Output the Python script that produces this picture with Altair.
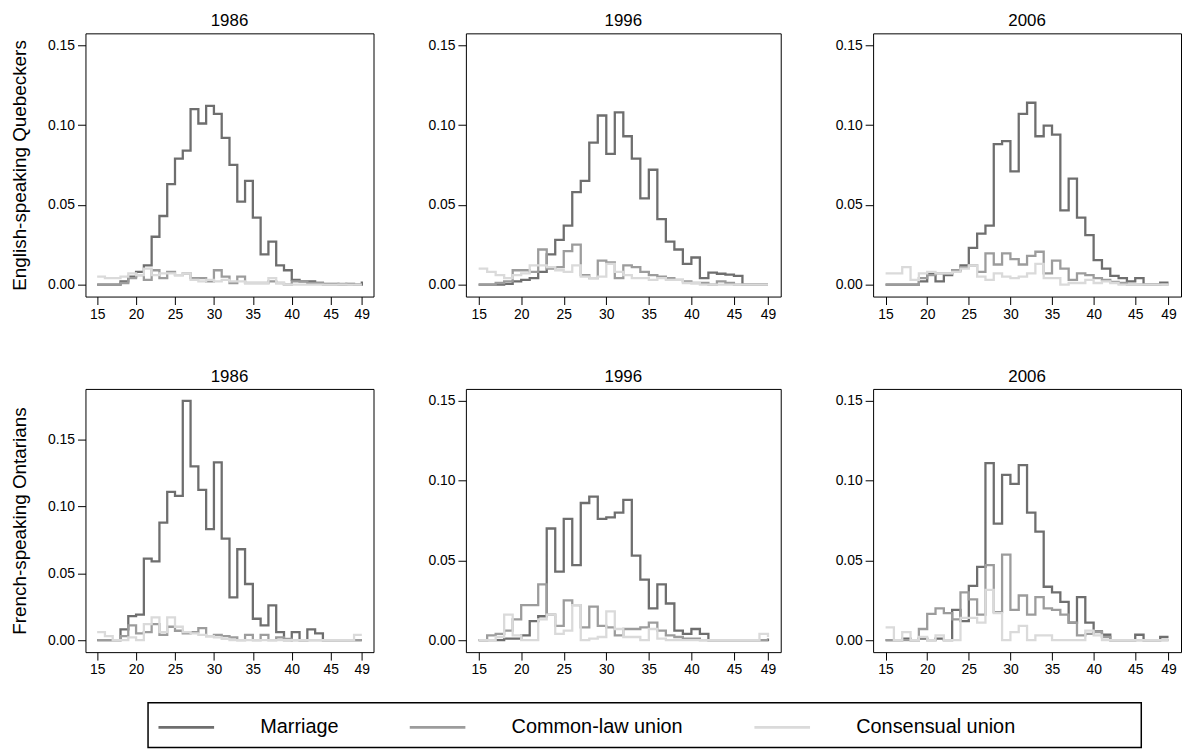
import altair as alt
import pandas as pd

FONT = "Liberation Sans"

ages = list(range(15, 50))
series_names = ["Marriage", "Common-law union", "Consensual union"]
series_colors = ["#6e6e6e", "#9c9c9c", "#dadada"]
x_ticks = [15, 20, 25, 30, 35, 40, 45, 49]
y_ticks = [0.0, 0.05, 0.10, 0.15]
years = ["1986", "1996", "2006"]
groups = ["English-speaking Quebeckers", "French-speaking Ontarians"]

# English-speaking Quebeckers
eq_1986_marriage = [0, 0, 0, 0.002, 0.005, 0.008, 0.012, 0.030, 0.043, 0.063,
                    0.079, 0.084, 0.110, 0.101, 0.112, 0.107, 0.092, 0.075, 0.052, 0.065,
                    0.042, 0.019, 0.027, 0.012, 0.009, 0.003, 0.002, 0.002, 0.001, 0.0005,
                    0.0005, 0, 0.0005, 0, 0.002]
eq_1986_common = [0, 0, 0, 0.001, 0.004, 0.006, 0.003, 0.009, 0.004, 0.008,
                  0.006, 0.007, 0.004, 0.004, 0.002, 0.009, 0.005, 0.001, 0.005, 0.001,
                  0.001, 0.001, 0.002, 0.001, 0.000, 0.002, 0.002, 0.001, 0.001, 0.000,
                  0.000, 0.0005, 0.000, 0.000, 0.000]
eq_1986_consensual = [0.005, 0.004, 0.004, 0.005, 0.007, 0.006, 0.010, 0.006, 0.007, 0.007,
                      0.006, 0.007, 0.003, 0.002, 0.003, 0.002, 0.003, 0.002, 0.002, 0.001,
                      0.001, 0.001, 0.004, 0.001, 0, 0, 0, 0, 0, 0,
                      0, 0, 0, 0, 0]

eq_1996_marriage = [0, 0, 0, 0.0005, 0.002, 0.003, 0.004, 0.008, 0.019, 0.028,
                    0.037, 0.058, 0.065, 0.089, 0.106, 0.082, 0.108, 0.093, 0.079, 0.054,
                    0.072, 0.041, 0.027, 0.022, 0.013, 0.017, 0.004, 0.0075, 0.0068, 0.0063,
                    0.0055, 0, 0, 0, 0]
eq_1996_common = [0, 0, 0.001, 0.002, 0.009, 0.009, 0.008, 0.022, 0.010, 0.011,
                  0.021, 0.025, 0.006, 0.004, 0.015, 0.014, 0.004, 0.012, 0.011, 0.008,
                  0.006, 0.005, 0.004, 0.003, 0.002, 0.001, 0.001, 0.000, 0.002, 0.001,
                  0, 0, 0, 0, 0]
eq_1996_consensual = [0.010, 0.008, 0.006, 0.004, 0.006, 0.007, 0.012, 0.012, 0.011, 0.009,
                      0.008, 0.012, 0.005, 0.004, 0.005, 0.013, 0.008, 0.006, 0.004, 0.004,
                      0.003, 0.004, 0.003, 0.003, 0.001, 0.001, 0, 0, 0, 0,
                      0, 0, 0, 0, 0]

eq_2006_marriage = [0, 0, 0, 0, 0.002, 0.007, 0.002, 0.006, 0.009, 0.012,
                    0.023, 0.032, 0.037, 0.088, 0.090, 0.071, 0.107, 0.114, 0.093, 0.0996,
                    0.094, 0.0465, 0.0665, 0.042, 0.031, 0.0154, 0.010, 0.0055, 0.004, 0.002,
                    0.004, 0, 0, 0.0013, 0.0013]
eq_2006_common = [0, 0, 0, 0, 0.004, 0.006, 0.007, 0.007, 0.009, 0.011,
                  0.012, 0.008, 0.0196, 0.0126, 0.0196, 0.016, 0.0126, 0.018, 0.0206, 0.007,
                  0.015, 0.010, 0.003, 0.007, 0.006, 0.004, 0.003, 0.0017, 0.001, 0,
                  0, 0, 0, 0, 0]
eq_2006_consensual = [0.007, 0.007, 0.011, 0.003, 0.007, 0.008, 0.007, 0.007, 0.008, 0.010,
                      0.012, 0.005, 0.003, 0.007, 0.005, 0.004, 0.005, 0.007, 0.013, 0.004,
                      0.004, 0, 0.001, 0.001, 0.003, 0.001, 0.002, 0.001, 0, 0,
                      0, 0, 0, 0, 0]

# French-speaking Ontarians
fo_1986_marriage = [0, 0, 0, 0.008, 0.018, 0.019, 0.061, 0.059, 0.088, 0.111,
                    0.108, 0.179, 0.130, 0.1125, 0.083, 0.133, 0.076, 0.032, 0.068, 0.042,
                    0.016, 0.011, 0.026, 0.006, 0, 0.006, 0, 0.008, 0.005, 0,
                    0, 0, 0, 0, 0]
fo_1986_common = [0, 0, 0, 0.003, 0.011, 0.005, 0.006, 0.012, 0.004, 0.010,
                  0.007, 0.005, 0.006, 0.009, 0.003, 0.004, 0.003, 0.002, 0, 0.004,
                  0, 0.004, 0, 0.002, 0.001, 0, 0, 0, 0, 0,
                  0, 0, 0, 0, 0]
fo_1986_consensual = [0.006, 0.003, 0, 0, 0.002, 0, 0.012, 0.017, 0.006, 0.017,
                      0.010, 0.006, 0.005, 0.004, 0.003, 0.002, 0.001, 0, 0, 0,
                      0, 0, 0, 0, 0, 0, 0, 0, 0, 0,
                      0, 0, 0, 0.004, 0.004]

fo_1996_marriage = [0, 0, 0, 0.001, 0.001, 0.003, 0.012, 0.015, 0.070, 0.043,
                    0.076, 0.047, 0.086, 0.090, 0.076, 0.077, 0.080, 0.088, 0.053, 0.038,
                    0.020, 0.035, 0.023, 0.006, 0.004, 0.007, 0.004, 0, 0, 0,
                    0, 0, 0, 0, 0.001]
fo_1996_common = [0, 0.003, 0.004, 0.006, 0.013, 0.022, 0.022, 0.035, 0.016, 0.009,
                  0.025, 0.022, 0.008, 0.021, 0.009, 0.008, 0.003, 0.007, 0.007, 0.008,
                  0.011, 0.006, 0.003, 0.002, 0.001, 0.001, 0, 0, 0, 0,
                  0, 0, 0, 0, 0]
fo_1996_consensual = [0, 0, 0.002, 0.016, 0.003, 0, 0, 0.013, 0.016, 0.004,
                      0.006, 0.022, 0, 0.001, 0.002, 0.018, 0.007, 0.002, 0.002, 0,
                      0.007, 0.001, 0, 0, 0, 0, 0, 0, 0, 0,
                      0, 0, 0, 0.004, 0.002]

fo_2006_marriage = [0, 0, 0.001, 0, 0.001, 0, 0.001, 0, 0.019, 0.012,
                    0.034, 0.046, 0.111, 0.073, 0.1036, 0.098, 0.1097, 0.080, 0.068, 0.0335,
                    0.030, 0.024, 0.011, 0.027, 0.011, 0.0055, 0.0034, 0, 0, 0,
                    0.0034, 0, 0, 0.002, 0.002]
fo_2006_common = [0, 0, 0, 0, 0.007, 0.0165, 0.020, 0.017, 0.013, 0.030,
                  0.0256, 0.016, 0.047, 0.0176, 0.0536, 0.019, 0.028, 0.016, 0.027, 0.020,
                  0.019, 0.016, 0.011, 0.003, 0.004, 0.005, 0.002, 0, 0, 0,
                  0, 0, 0, 0, 0]
fo_2006_consensual = [0.008, 0, 0.005, 0, 0.002, 0, 0.003, 0, 0, 0.014,
                      0.014, 0.011, 0.0316, 0.017, 0, 0.005, 0.009, 0, 0.003, 0.003,
                      0, 0, 0, 0, 0.006, 0.003, 0, 0, 0, 0,
                      0, 0, 0, 0, 0]

panels = [
    [(eq_1986_marriage, eq_1986_common, eq_1986_consensual),
     (eq_1996_marriage, eq_1996_common, eq_1996_consensual),
     (eq_2006_marriage, eq_2006_common, eq_2006_consensual)],
    [(fo_1986_marriage, fo_1986_common, fo_1986_consensual),
     (fo_1996_marriage, fo_1996_common, fo_1996_consensual),
     (fo_2006_marriage, fo_2006_common, fo_2006_consensual)],
]
panel_widths = [290, 317, 310]


def panel(series, year, ytitle, ydomain, width):
    rows = []
    for k, (name, vals) in enumerate(zip(series_names, series)):
        for a, v in zip(ages, vals):
            rows.append({"age": a, "rate": v, "union": name, "k": k})
    df = pd.DataFrame(rows)
    yaxis_kw = dict(values=y_ticks, format=".2f")
    if ytitle:
        yaxis_kw.update(title=ytitle, titleFontSize=19, titleFont=FONT,
                        titleFontWeight="normal", titleColor="black", titlePadding=18)
    else:
        yaxis_kw.update(title=None)
    return (
        alt.Chart(df, title=alt.Title(year, fontSize=17, font=FONT, fontWeight="normal",
                                      color="black", offset=3))
        .mark_line(interpolate="step-after", strokeWidth=2.3, clip=True)
        .encode(
            x=alt.X("age:Q",
                    scale=alt.Scale(domain=[13.5, 50.5], nice=False, zero=False),
                    axis=alt.Axis(values=x_ticks, title=None, format="d")),
            y=alt.Y("rate:Q",
                    scale=alt.Scale(domain=ydomain, nice=False, zero=False),
                    axis=alt.Axis(**yaxis_kw)),
            color=alt.Color("union:N",
                            scale=alt.Scale(domain=series_names, range=series_colors),
                            legend=alt.Legend(title=None)),
            order=alt.Order("k:Q"),
        )
        .properties(width=width, height=265)
    )


grid_rows = []
for r, group in enumerate(groups):
    charts = []
    for c, year in enumerate(years):
        ytitle = group if c == 0 else None
        if r == 1 and c == 0:
            ydom = [-0.009, 0.188]
        else:
            ydom = [-0.0075, 0.1575]
        charts.append(panel(panels[r][c], year, ytitle, ydom, panel_widths[c]))
    grid_rows.append(alt.hconcat(*charts, spacing=53))

grid = alt.vconcat(*grid_rows, spacing=45)

# frame that surrounds the legend (legend entries come from the colour scale)
legend_df = pd.DataFrame({"union": series_names})
spacer = (
    alt.Chart(legend_df)
    .mark_point(opacity=0)
    .encode(detail="union:N")
    .properties(width=61, height=45, view=alt.ViewBackground(stroke="transparent"))
)
legend_frame = (
    alt.Chart(legend_df)
    .mark_point(opacity=0)
    .encode(detail="union:N")
    .properties(width=1000, height=45,
                view=alt.ViewBackground(stroke="black", strokeWidth=1.5))
)
legend_row = alt.hconcat(spacer, legend_frame, spacing=0)

chart = (
    alt.vconcat(grid, legend_row, spacing=24)
    .properties(padding={"left": 2, "top": 1, "right": 0, "bottom": 0})
    .configure_view(stroke="black", strokeWidth=1)
    .configure_axis(
        grid=False, domain=False, tickSize=8, tickColor="black", tickWidth=1,
        labelFont=FONT, labelFontSize=14, labelColor="black", labelPadding=3,
    )
    .configure_legend(
        orient="none", legendX=72, legendY=669, direction="horizontal",
        padding=0,
        symbolType="stroke", symbolSize=3136, symbolStrokeWidth=3,
        labelFont=FONT, labelFontSize=20, labelColor="black", labelOffset=45,
        labelLimit=400, columnPadding=65, gridAlign="each",
    )
)

chart.save("out.html", embed_options={"renderer": "svg", "actions": False})
